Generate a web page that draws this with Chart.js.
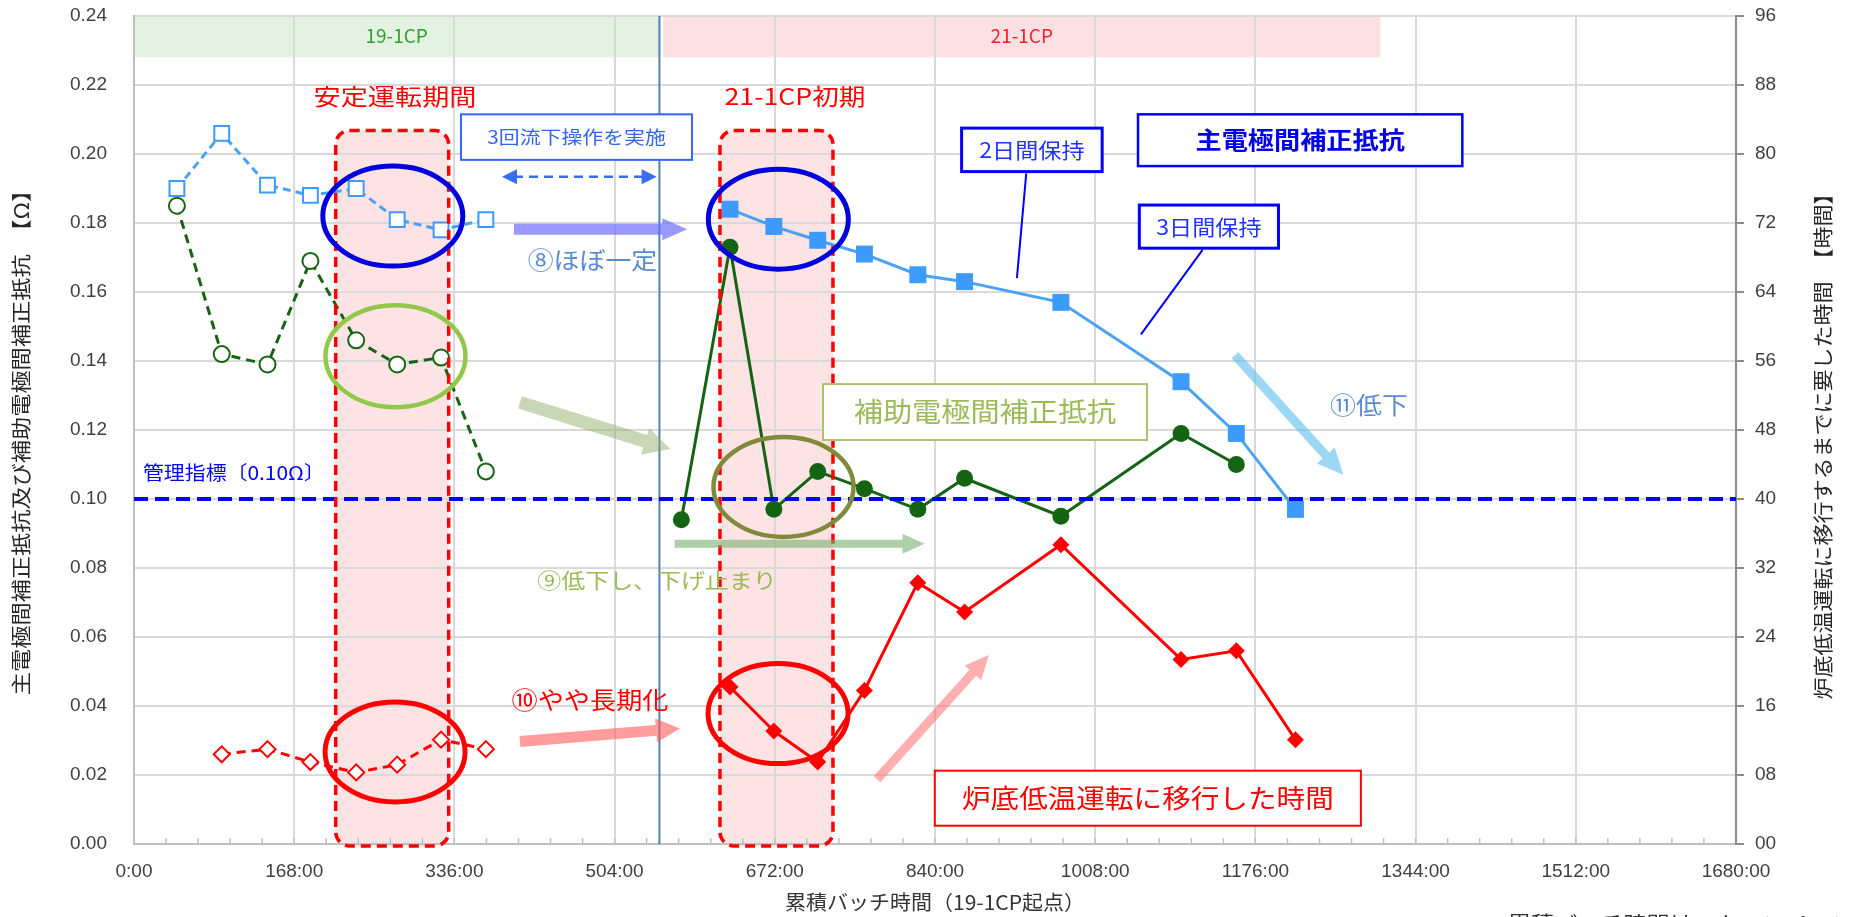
<!DOCTYPE html>
<html lang="ja">
<head>
<meta charset="utf-8">
<title>主電極間補正抵抗・補助電極間補正抵抗の推移</title>
<script src="https://cdn.jsdelivr.net/npm/chart.js@4.4.1/dist/chart.umd.min.js"></script>
<style>
  html, body { margin: 0; padding: 0; background: #fff; overflow: hidden; }
  canvas { display: block; }
</style>
</head>
<body>
<canvas id="chart" width="1852" height="917"></canvas>
<script>
// ---- 19-1CP campaign (dashed lines, open markers) ----
const hours19      = [45, 92, 140, 185, 233, 276, 322, 369];
const mainR19      = [0.190, 0.206, 0.191, 0.188, 0.190, 0.181, 0.178, 0.181];
const auxR19       = [0.185, 0.142, 0.139, 0.169, 0.146, 0.139, 0.141, 0.108];
const shiftHours19 = [92, 140, 185, 233, 276, 322, 369];
const shiftTime19  = [10.4, 11.0, 9.5, 8.3, 9.2, 12.1, 11.0];

// ---- 21-1CP campaign (solid lines, filled markers) ----
const hours21      = [625, 671, 717, 766, 822, 871, 972, 1098, 1156, 1218];
const mainR21      = [0.184, 0.179, 0.175, 0.171, 0.165, 0.163, 0.157, 0.134, 0.119, 0.097];
const auxHours21   = [574, 625, 671, 717, 766, 822, 871, 972, 1098, 1156];
const auxR21       = [0.094, 0.173, 0.097, 0.108, 0.103, 0.097, 0.106, 0.095, 0.119, 0.110];
const shiftTime21  = [18.2, 13.1, 9.5, 17.8, 30.3, 26.9, 34.7, 21.4, 22.4, 12.1];

// ---- control limit ----
const controlLimit = 0.10;

// ---- axes ----
const xTickHours  = [0, 168, 336, 504, 672, 840, 1008, 1176, 1344, 1512, 1680];
const xTickLabels = ['0:00', '168:00', '336:00', '504:00', '672:00', '840:00', '1008:00', '1176:00', '1344:00', '1512:00', '1680:00'];
const leftTickLabels  = ['0.00', '0.02', '0.04', '0.06', '0.08', '0.10', '0.12', '0.14', '0.16', '0.18', '0.20', '0.22', '0.24'];
const rightTickLabels = ['00', '08', '16', '24', '32', '40', '48', '56', '64', '72', '80', '88', '96'];

// ---- campaign spans (hours) ----
const campaignNames = ['19-1CP', '21-1CP'];
const campaignSpans = [[0, 551], [555, 1307]];
const campaignBoundary = 551;
const focusSpans = [[211.5, 330], [614.5, 733]];

const pts = (xs, ys) => xs.map((x, i) => ({ x, y: ys[i] }));

const BLUE = '#3d9bff', GREEN = '#146414', RED = '#ff0000';
const CJK = "'Noto Sans CJK JP', 'Noto Sans', sans-serif";

// ---- drawing helpers for the annotation layer ----
function label(ctx, text, x, y, o) {
  ctx.save();
  ctx.translate(x, y);
  if (o.rot) ctx.rotate(o.rot);
  ctx.scale(o.sx || 1, 1);
  ctx.font = o.font;
  ctx.fillStyle = o.color;
  ctx.textAlign = o.align || 'center';
  ctx.textBaseline = 'middle';
  ctx.fillText(text, 0, 0);
  ctx.restore();
}
function frame(ctx, x1, y1, x2, y2, color, lw) {
  ctx.save();
  ctx.fillStyle = '#fff';
  ctx.fillRect(x1, y1, x2 - x1, y2 - y1);
  ctx.strokeStyle = color; ctx.lineWidth = lw;
  ctx.strokeRect(x1, y1, x2 - x1, y2 - y1);
  ctx.restore();
}
function ellipse(ctx, cx, cy, rx, ry, color, lw) {
  ctx.save();
  ctx.beginPath();
  ctx.ellipse(cx, cy, rx, ry, 0, 0, Math.PI * 2);
  ctx.strokeStyle = color; ctx.lineWidth = lw;
  ctx.stroke();
  ctx.restore();
}
function blockArrow(ctx, x1, y1, x2, y2, sw, hw, hl, color) {
  const len = Math.hypot(x2 - x1, y2 - y1);
  const ux = (x2 - x1) / len, uy = (y2 - y1) / len;
  const nx = -uy, ny = ux;
  const bx = x2 - ux * hl, by = y2 - uy * hl;
  ctx.save();
  ctx.beginPath();
  ctx.moveTo(x1 + nx * sw / 2, y1 + ny * sw / 2);
  ctx.lineTo(bx + nx * sw / 2, by + ny * sw / 2);
  ctx.lineTo(bx + nx * hw / 2, by + ny * hw / 2);
  ctx.lineTo(x2, y2);
  ctx.lineTo(bx - nx * hw / 2, by - ny * hw / 2);
  ctx.lineTo(bx - nx * sw / 2, by - ny * sw / 2);
  ctx.lineTo(x1 - nx * sw / 2, y1 - ny * sw / 2);
  ctx.closePath();
  ctx.fillStyle = color;
  ctx.fill();
  ctx.restore();
}
function line(ctx, x1, y1, x2, y2, color, lw, dash) {
  ctx.save();
  ctx.beginPath();
  ctx.moveTo(x1, y1); ctx.lineTo(x2, y2);
  ctx.strokeStyle = color; ctx.lineWidth = lw;
  ctx.setLineDash(dash || []);
  ctx.stroke();
  ctx.restore();
}
function head(ctx, x, y, dir, len, w, color) {
  ctx.save();
  ctx.beginPath();
  ctx.moveTo(x, y);
  ctx.lineTo(x - dir * len, y - w / 2);
  ctx.lineTo(x - dir * len, y + w / 2);
  ctx.closePath();
  ctx.fillStyle = color;
  ctx.fill();
  ctx.restore();
}

const notesPlugin = {
  id: 'campaignNotes',
  beforeDraw(chart) {
    const { ctx, chartArea: a } = chart;
    const X = h => chart.scales.x.getPixelForValue(h);
    const Y = v => chart.scales.y.getPixelForValue(v);
    const fills = ['#e3f2e1', '#fde1e2'];
    campaignSpans.forEach((s, i) => {
      ctx.fillStyle = fills[i];
      ctx.fillRect(X(s[0]), Y(0.24), X(s[1]) - X(s[0]), Y(0.228) - Y(0.24));
    });
    focusSpans.forEach(s => {
      const y1 = Y(0.2068);
      ctx.save();
      ctx.beginPath();
      ctx.roundRect(X(s[0]), y1, X(s[1]) - X(s[0]), a.bottom + 2 - y1, 14);
      ctx.fillStyle = 'rgba(250,170,170,0.33)';
      ctx.fill();
      ctx.restore();
    });
  },
  beforeDatasetsDraw(chart) {
    const { ctx, chartArea: a } = chart;
    const X = h => chart.scales.x.getPixelForValue(h);
    // minor ticks on the time axis
    ctx.save();
    ctx.strokeStyle = '#bfbfbf'; ctx.lineWidth = 1.5;
    for (let k = 1; k < 50; k++) {
      const x = X(k * 33.6);
      ctx.beginPath(); ctx.moveTo(x, a.bottom); ctx.lineTo(x, a.bottom - 6); ctx.stroke();
    }
    ctx.restore();
    // campaign boundary
    line(ctx, X(campaignBoundary), a.top, X(campaignBoundary), a.bottom, '#4f81bd', 2);
  },
  afterDatasetsDraw(chart) {
    const { ctx, chartArea: a } = chart;
    const X = h => chart.scales.x.getPixelForValue(h);
    const Y = v => chart.scales.y.getPixelForValue(v);

    // campaign names in the top band
    const nameColors = ['#2ea02e', '#f0202a'];
    campaignSpans.forEach((s, i) => {
      label(ctx, campaignNames[i], (X(s[0]) + X(s[1])) / 2, Y(0.2342),
        { font: '19px ' + CJK, color: nameColors[i] });
    });

    // dashed rounded frames
    focusSpans.forEach(s => {
      const y1 = Y(0.2068);
      ctx.save();
      ctx.beginPath();
      ctx.roundRect(X(s[0]), y1, X(s[1]) - X(s[0]), a.bottom + 2 - y1, 14);
      ctx.setLineDash([10, 6]);
      ctx.strokeStyle = RED; ctx.lineWidth = 3.5;
      ctx.stroke();
      ctx.restore();
    });
    label(ctx, '安定運転期間', X(273.7), Y(0.2166), { font: '23px ' + CJK, color: RED, sx: 1.18 });
    label(ctx, '21-1CP初期', X(693.2), Y(0.2166), { font: '23px ' + CJK, color: RED, sx: 1.16 });

    // ellipses
    ellipse(ctx, X(271.4), Y(0.1820), 70, 50, '#0000dd', 5);
    ellipse(ctx, X(675.7), Y(0.1811), 70, 50, '#0000dd', 5);
    ellipse(ctx, X(274.2), Y(0.1414), 70, 51, '#92c84a', 4.5);
    ellipse(ctx, X(681.1), Y(0.1035), 70, 50, '#808a3a', 4.5);
    ellipse(ctx, X(273.8), Y(0.0267), 70, 50, RED, 5);
    ellipse(ctx, X(675.4), Y(0.0378), 70, 50, RED, 5);

    // 3回流下操作 box and double arrow
    frame(ctx, X(342.9), Y(0.2115), X(585.2), Y(0.1983), '#3366ff', 2);
    label(ctx, '3回流下操作を実施', (X(342.9) + X(585.2)) / 2, (Y(0.2115) + Y(0.1983)) / 2,
      { font: '18px ' + CJK, color: '#3366ee', sx: 1.16 });
    const dy = Y(0.1934);
    line(ctx, X(385.9) + 12, dy, X(548.1) - 12, dy, '#3a6cf0', 2.5, [9, 6]);
    head(ctx, X(385.9), dy, -1, 15, 15, '#3a6cf0');
    head(ctx, X(548.1), dy, 1, 15, 15, '#3a6cf0');

    // trend arrows
    blockArrow(ctx, X(398.5), Y(0.1782), X(580.2), Y(0.1782), 11, 22, 25, 'rgba(110,110,255,0.7)');
    label(ctx, '⑧ほぼ一定', X(480.8), Y(0.1693), { font: '24px ' + CJK, color: '#5a8ad0', sx: 1.08 });

    blockArrow(ctx, X(404.8), Y(0.1280), X(562.1), Y(0.1145), 13, 28, 26, 'rgba(150,175,110,0.5)');
    blockArrow(ctx, X(566.9), Y(0.0870), X(829.0), Y(0.0870), 8, 20, 22, 'rgba(120,175,110,0.6)');
    label(ctx, '⑨低下し、下げ止まり', X(548.5), Y(0.0765), { font: '21px ' + CJK, color: '#9bbb59', sx: 1.14 });

    blockArrow(ctx, X(404.8), Y(0.0297), X(572.6), Y(0.0335), 11, 24, 24, 'rgba(255,90,90,0.6)');
    label(ctx, '⑩やや長期化', X(478.2), Y(0.0417), { font: '24px ' + CJK, color: RED, sx: 1.09 });

    blockArrow(ctx, X(779.2), Y(0.0188), X(896.6), Y(0.0548), 9, 22, 24, 'rgba(255,110,110,0.55)');

    blockArrow(ctx, X(1154.6), Y(0.1417), X(1268.2), Y(0.1070), 9, 24, 26, 'rgba(90,190,240,0.6)');
    label(ctx, '⑪低下', X(1295.1), Y(0.1273), { font: '24px ' + CJK, color: '#5a8ad0', sx: 1.08 });

    // series captions
    frame(ctx, X(722.6), Y(0.1333), X(1062.3), Y(0.1171), '#a9c46c', 2);
    label(ctx, '補助電極間補正抵抗', (X(722.6) + X(1062.3)) / 2, (Y(0.1333) + Y(0.1171)) / 2,
      { font: '27px ' + CJK, color: '#9bbb59', sx: 1.08 });

    frame(ctx, X(1052.9), Y(0.2115), X(1393), Y(0.1965), '#0000ff', 2.5);
    label(ctx, '主電極間補正抵抗', (X(1052.9) + X(1393)) / 2, (Y(0.2115) + Y(0.1965)) / 2,
      { font: 'bold 24px ' + CJK, color: '#0000ee', sx: 1.09 });

    frame(ctx, X(839.8), Y(0.02125), X(1286.6), Y(0.0053), RED, 2);
    label(ctx, '炉底低温運転に移行した時間', (X(839.8) + X(1286.6)) / 2, (Y(0.02125) + Y(0.0053)) / 2,
      { font: '26px ' + CJK, color: RED, sx: 1.1 });

    // holding-period call-outs
    line(ctx, X(935.7), Y(0.1944), X(925.9), Y(0.1640), '#0000ff', 2);
    frame(ctx, X(867.9), Y(0.2075), X(1015.3), Y(0.1949), '#0000ff', 3);
    label(ctx, '2日間保持', (X(867.9) + X(1015.3)) / 2, (Y(0.2075) + Y(0.1949)) / 2,
      { font: '21px ' + CJK, color: '#2233ff', sx: 1.1 });
    line(ctx, X(1120.6), Y(0.1722), X(1056.0), Y(0.1477), '#0000ff', 2);
    frame(ctx, X(1054.3), Y(0.1852), X(1200.2), Y(0.1727), '#0000ff', 3);
    label(ctx, '3日間保持', (X(1054.3) + X(1200.2)) / 2, (Y(0.1852) + Y(0.1727)) / 2,
      { font: '21px ' + CJK, color: '#2233ff', sx: 1.1 });

    // control limit caption
    label(ctx, '管理指標〔0.10Ω〕', X(9.4), Y(0.1075), { font: '19px ' + CJK, color: '#0000ff', sx: 1.1, align: 'left' });
  },
  afterDraw(chart) {
    const { ctx, chartArea: a } = chart;
    label(ctx, '主電極間補正抵抗及び補助電極間補正抵抗　【Ω】', 21.5, 437,
      { font: '20px ' + CJK, color: '#262626', rot: -Math.PI / 2, sx: 1.16 });
    label(ctx, '炉底低温運転に移行するまでに要した時間　【時間】', 1823, 441,
      { font: '20px ' + CJK, color: '#262626', rot: -Math.PI / 2, sx: 1.1 });
    label(ctx, '累積バッチ時間（19-1CP起点）', (a.left + a.right) / 2 + 0, 902,
      { font: '20px ' + CJK, color: '#333', sx: 1.05 });
    label(ctx, '累積バッチ時間は、キャンペーン開始からの通算', 1508, 924,
      { font: '22px ' + CJK, color: '#333', align: 'left', sx: 1.05 });
  }
};

new Chart(document.getElementById('chart'), {
  type: 'line',
  data: {
    datasets: [
      { label: '管理指標', data: [{ x: 0, y: controlLimit }, { x: 1680, y: controlLimit }], yAxisID: 'y',
        borderColor: '#0000ff', borderWidth: 4, borderDash: [14, 7], pointRadius: 0, order: -1 },
      { label: '主電極間補正抵抗（19-1CP）', data: pts(hours19, mainR19), yAxisID: 'y',
        borderColor: '#4aa2f5', borderWidth: 3, borderDash: [8, 5],
        pointStyle: 'rect', pointRadius: 10.5, pointBorderWidth: 2,
        pointBorderColor: BLUE, pointBackgroundColor: '#fff' },
      { label: '補助電極間補正抵抗（19-1CP）', data: pts(hours19, auxR19), yAxisID: 'y',
        borderColor: GREEN, borderWidth: 3, borderDash: [9, 6],
        pointStyle: 'circle', pointRadius: 8, pointBorderWidth: 2,
        pointBorderColor: GREEN, pointBackgroundColor: '#fff' },
      { label: '炉底低温運転に移行した時間（19-1CP）', data: pts(shiftHours19, shiftTime19), yAxisID: 'y2',
        borderColor: RED, borderWidth: 3, borderDash: [9, 6],
        pointStyle: 'rectRot', pointRadius: 8, pointBorderWidth: 2,
        pointBorderColor: RED, pointBackgroundColor: '#fff' },
      { label: '主電極間補正抵抗（21-1CP）', data: pts(hours21, mainR21), yAxisID: 'y',
        borderColor: '#4aa2f5', borderWidth: 3,
        pointStyle: 'rect', pointRadius: 12, pointBorderWidth: 0,
        pointBorderColor: BLUE, pointBackgroundColor: BLUE },
      { label: '補助電極間補正抵抗（21-1CP）', data: pts(auxHours21, auxR21), yAxisID: 'y',
        borderColor: GREEN, borderWidth: 3,
        pointStyle: 'circle', pointRadius: 8.5, pointBorderWidth: 0,
        pointBorderColor: GREEN, pointBackgroundColor: GREEN },
      { label: '炉底低温運転に移行した時間（21-1CP）', data: pts(hours21, shiftTime21), yAxisID: 'y2',
        borderColor: RED, borderWidth: 3,
        pointStyle: 'rectRot', pointRadius: 8.5, pointBorderWidth: 0,
        pointBorderColor: RED, pointBackgroundColor: RED }
    ]
  },
  options: {
    responsive: false,
    devicePixelRatio: 1,
    animation: false,
    events: [],
    layout: { padding: { top: 16, left: 0, right: 0, bottom: 0 } },
    plugins: { legend: { display: false }, tooltip: { enabled: false } },
    elements: { line: { tension: 0, fill: false } },
    scales: {
      x: {
        type: 'linear', min: 0, max: 1680,
        afterBuildTicks: s => { s.ticks = xTickHours.map(v => ({ value: v })); },
        afterFit: s => { s.height = 73; },
        grid: { color: '#d9d9d9', lineWidth: 2, drawTicks: false },
        border: { color: '#bfbfbf', width: 2 },
        ticks: { padding: 16, color: '#404040', font: { family: "'Liberation Sans', sans-serif", size: 19 },
                 maxRotation: 0, autoSkip: false, callback: (v, i) => xTickLabels[i] }
      },
      y: {
        position: 'left', min: 0, max: 0.24,
        afterBuildTicks: s => { s.ticks = leftTickLabels.map(t => ({ value: parseFloat(t) })); },
        afterFit: s => { s.width = 134; s.paddingTop = 0; s.paddingBottom = 0; },
        grid: { color: '#d9d9d9', lineWidth: 2, drawTicks: false },
        border: { color: '#bfbfbf', width: 2 },
        ticks: { padding: 27, color: '#404040', font: { family: "'Liberation Sans', sans-serif", size: 19 },
                 callback: (v, i) => leftTickLabels[i] }
      },
      y2: {
        position: 'right', min: 0, max: 96,
        afterBuildTicks: s => { s.ticks = rightTickLabels.map(t => ({ value: parseFloat(t) })); },
        afterFit: s => { s.width = 116; s.paddingTop = 0; s.paddingBottom = 0; },
        grid: { drawOnChartArea: false, drawTicks: true, tickLength: 8, color: '#8c8c8c', lineWidth: 2 },
        border: { color: '#8c8c8c', width: 2 },
        ticks: { padding: 11, color: '#404040', font: { family: "'Liberation Sans', sans-serif", size: 19 },
                 callback: (v, i) => rightTickLabels[i] }
      }
    }
  },
  plugins: [notesPlugin]
});
</script>
</body>
</html>
